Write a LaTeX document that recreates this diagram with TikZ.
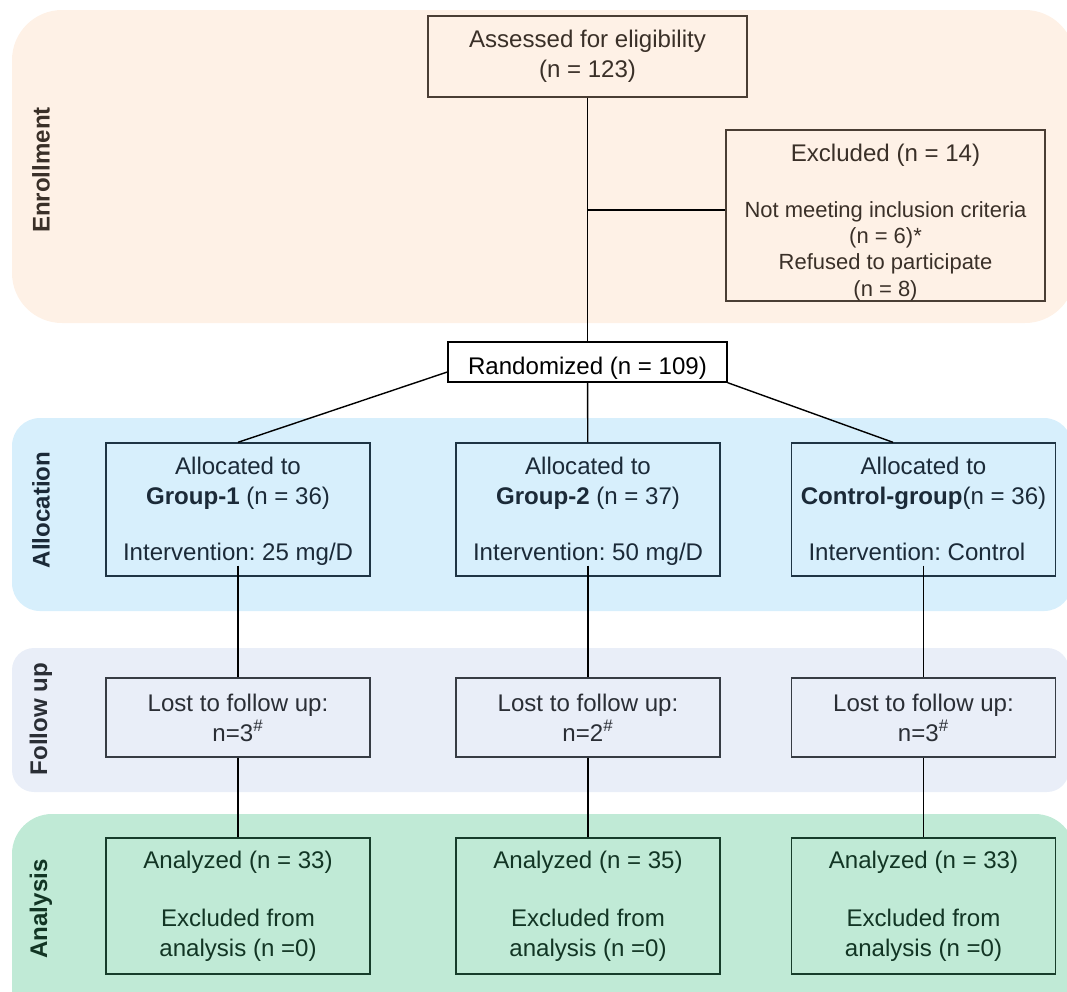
\documentclass[tikz,border=0pt]{standalone}
\usepackage{fontspec}
\setmainfont{Liberation Sans}
\usepackage{tikz}
\usetikzlibrary{positioning, calc}
\frenchspacing

\definecolor{enrbg}{HTML}{FEF1E6}
\definecolor{enrline}{HTML}{4A3E34}
\definecolor{enrtext}{HTML}{3A3028}
\definecolor{allocbg}{HTML}{D7EFFC}
\definecolor{allocline}{HTML}{1E3444}
\definecolor{alloctext}{HTML}{1B2A38}
\definecolor{fubg}{HTML}{E9EEF8}
\definecolor{fuline}{HTML}{373C44}
\definecolor{futext}{HTML}{2A2E35}
\definecolor{anbg}{HTML}{C0EAD6}
\definecolor{anline}{HTML}{173D2B}
\definecolor{antext}{HTML}{123524}

\begin{document}
\begin{tikzpicture}[x=0.02cm, y=-0.02cm, line width=0.8pt,
    font=\fontsize{13.7}{17}\selectfont,
    phase/.style={rotate=90, font=\fontsize{13.7}{17}\selectfont\bfseries, inner sep=0pt},
    enrbox/.style={draw=enrline, fill=enrbg, text=enrtext, inner sep=0pt},
    randbox/.style={draw=black, fill=white, text=black, inner sep=0pt},
    allocbox/.style={draw=allocline, fill=allocbg, text=alloctext, inner sep=0pt,
        minimum width=5.28cm, minimum height=2.66cm},
    fubox/.style={draw=fuline, fill=fubg, text=futext, inner sep=0pt, align=center,
        minimum width=5.28cm, minimum height=1.58cm},
    anbox/.style={draw=anline, fill=anbg, text=antext, inner sep=0pt, align=center,
        minimum width=5.28cm, minimum height=2.72cm}]
    \useasboundingbox (0,0) rectangle (1067,991);
    \clip (0,0) rectangle (1067,991);

    % phase panels
    \fill[enrbg, rounded corners=1cm] (12,10) rectangle (1075,323);
    \fill[allocbg, rounded corners=0.56cm] (12,418) rectangle (1072,611);
    \fill[fubg, rounded corners=0.44cm] (12,648) rectangle (1069,792);
    \fill[anbg, rounded corners=0.8cm] (12,814) rectangle (1075,1040);

    \node[phase, text=enrtext] (lenr) at (41,170) {Enrollment};
    \node[phase, text=alloctext] (lalloc) at (41,510) {Allocation};
    \node[phase, text=futext] (lfu) at (41,719) {Follow up};
    \node[phase, text=antext] (lan) at (41,909) {Analysis};

    % enrollment
    \node[enrbox, align=center, minimum width=6.38cm, minimum height=1.62cm] (assess) at (587.5,56.5) {Assessed for eligibility\\(n = 123)};
    \node[enrbox, minimum width=6.38cm, minimum height=3.42cm] (excl) at (885.5,215.5) {};
    \node[text=enrtext, align=center, inner sep=0pt, font=\fontsize{12.5}{15}\selectfont] (excltext) at (885.5,222.5)
        {{\fontsize{13.7}{17}\selectfont Excluded (n = 14)}\\[16.7pt]
         Not meeting inclusion criteria\\(n = 6)*\\Refused to participate\\(n = 8)};
    \node[randbox, minimum width=5.58cm, minimum height=0.8cm, text height=1em+4.5pt, text depth=0pt] (rand) at (587.5,362) {Randomized (n = 109)};

    % allocation
    \node[allocbox] (g1) at (238,509.5) {\parbox{4.6cm}{\vspace*{4.5pt}\centering Allocated to\\\makebox[\linewidth]{\textbf{Group-1} (n = 36)}\par\vspace{14.7pt}\makebox[\linewidth][l]{Intervention: 25 mg/D}\strut}};
    \node[allocbox] (g2) at (588,509.5) {\parbox{4.6cm}{\vspace*{4.5pt}\centering Allocated to\\\makebox[\linewidth]{\textbf{Group-2} (n = 37)}\par\vspace{14.7pt}\makebox[\linewidth][l]{Intervention: 50 mg/D}\strut}};
    \node[allocbox] (g3) at (923.5,509.5) {\parbox{4.6cm}{\vspace*{4.5pt}\centering Allocated to\\\makebox[\linewidth]{\textbf{Control-group}(n = 36)}\par\vspace{14.7pt}\makebox[\linewidth][l]{Intervention: Control}\strut}};

    % follow up
    \node[fubox] (f1) at (238,717.5) {Lost to follow up:\\n=3\textsuperscript{\#}};
    \node[fubox] (f2) at (588,717.5) {Lost to follow up:\\n=2\textsuperscript{\#}};
    \node[fubox] (f3) at (923.5,717.5) {Lost to follow up:\\n=3\textsuperscript{\#}};

    % analysis
    \node[anbox] (a1) at (238,906) {Analyzed (n = 33)\\[16pt]Excluded from\\analysis (n =0)};
    \node[anbox] (a2) at (588,906) {Analyzed (n = 35)\\[16pt]Excluded from\\analysis (n =0)};
    \node[anbox] (a3) at (923.5,906) {Analyzed (n = 33)\\[16pt]Excluded from\\analysis (n =0)};

    \coordinate (split) at (587.5,210);
    \path (assess) edge (rand);
    \path (split) edge (split -| excl.west);
    \path (rand) edge (g2);
    \draw ([yshift=-0.2cm]rand.west) -- (g1.north);
    \draw (rand.south east) -- ([xshift=-0.61cm]g3.north);
    \draw ([yshift=0.22cm]g1.south) -- (f1.north);
    \draw ([yshift=0.22cm]g2.south) -- (f2.north);
    \draw ([yshift=0.22cm]g3.south) -- (f3.north);
    \path (f1) edge (a1);
    \path (f2) edge (a2);
    \path (f3) edge (a3);
\end{tikzpicture}
\end{document}
